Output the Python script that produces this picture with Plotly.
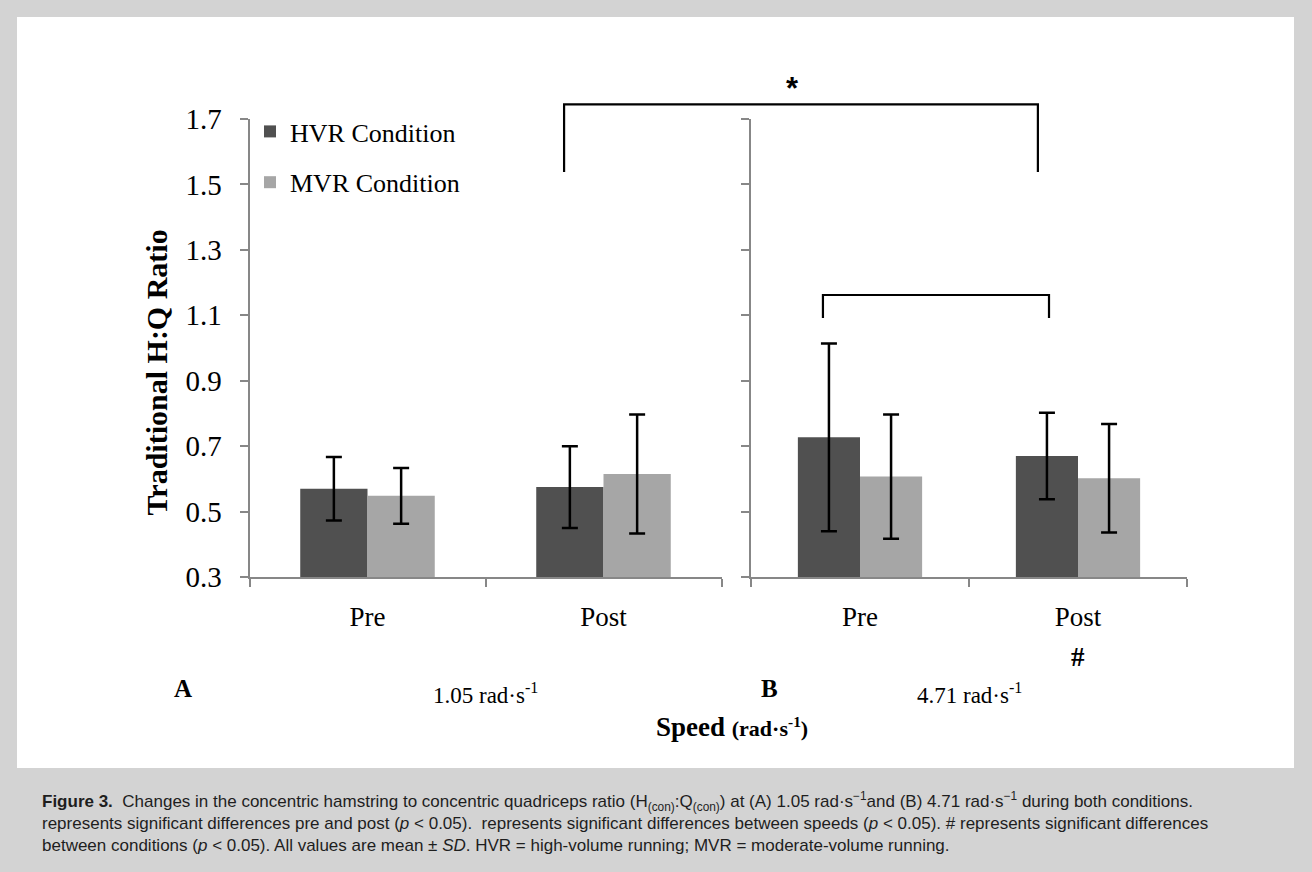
import plotly.graph_objects as go

# ---------------- data ----------------
categories = ["Pre", "Post"]
series_names = ["HVR Condition", "MVR Condition"]

# Panel A: 1.05 rad·s-1
hvr_a = [0.570, 0.575]
hvr_a_sd = [0.097, 0.125]
mvr_a = [0.548, 0.615]
mvr_a_sd = [0.085, 0.182]

# Panel B: 4.71 rad·s-1
hvr_b = [0.727, 0.670]
hvr_b_sd = [0.287, 0.132]
mvr_b = [0.607, 0.602]
mvr_b_sd = [0.190, 0.166]

y_ticks = [0.3, 0.5, 0.7, 0.9, 1.1, 1.3, 1.5, 1.7]
y_min, y_max = 0.3, 1.7

# ---------------- styling ----------------
W, H = 1312, 872
DARK = "#505050"
LIGHT = "#a6a6a6"
AXIS = "#878787"
BG = "#d3d3d3"
SERIF = "Liberation Serif, Times New Roman, serif"
SANS = "Liberation Sans, Arial, sans-serif"

def px_x(p):
    return p / W

def px_y(p):
    return 1 - p / H

XDOM = [[px_x(249.5), px_x(721.5)], [px_x(751), px_x(1187)]]
YDOM = [px_y(577), px_y(119)]

def xpaper(panel, pos):
    d = XDOM[panel]
    return d[0] + (pos + 0.5) / len(categories) * (d[1] - d[0])

def ypaper(v):
    return YDOM[0] + (v - y_min) / (y_max - y_min) * (YDOM[1] - YDOM[0])

fig = go.Figure()

def add_bars(x_ax, y_ax, vals, sds, color, name, show):
    fig.add_trace(go.Bar(
        x=categories, y=vals, name=name, marker_color=color,
        marker_line_width=0, xaxis=x_ax, yaxis=y_ax,
        showlegend=show, legendgroup=name,
        error_y=dict(type="data", array=sds, visible=True,
                     color="black", thickness=2.5, width=8),
    ))

add_bars("x", "y", hvr_a, hvr_a_sd, DARK, series_names[0], True)
add_bars("x", "y", mvr_a, mvr_a_sd, LIGHT, series_names[1], True)
add_bars("x2", "y2", hvr_b, hvr_b_sd, DARK, series_names[0], False)
add_bars("x2", "y2", mvr_b, mvr_b_sd, LIGHT, series_names[1], False)

xaxis_common = dict(
    type="category", range=[-0.5, 1.5], showline=True, linecolor=AXIS,
    linewidth=2, ticks="outside", tickson="boundaries", ticklen=8,
    tickcolor=AXIS, tickwidth=2, showgrid=False, zeroline=False,
    tickfont=dict(family=SERIF, size=27, color="black"),
    ticklabelstandoff=15, automargin=False,
)
yaxis_common = dict(
    range=[y_min, y_max], tickvals=y_ticks, showline=True, linecolor=AXIS,
    linewidth=2, ticks="outside", ticklen=8, tickcolor=AXIS, tickwidth=2,
    showgrid=False, zeroline=False, domain=YDOM, automargin=False,
)

shapes = [
    dict(type="rect", xref="paper", yref="paper",
         x0=px_x(17), x1=px_x(1294), y0=px_y(768), y1=px_y(17),
         fillcolor="white", line_width=0, layer="below"),
]

def bracket(p0, x0, p1, x1, top, bottom, color="black"):
    xa, xb = xpaper(p0, x0), xpaper(p1, x1)
    yt, yb = ypaper(top), ypaper(bottom)
    return dict(type="path", xref="paper", yref="paper",
                path=f"M {xa},{yb} L {xa},{yt} L {xb},{yt} L {xb},{yb}",
                line=dict(color=color, width=2.2))

# significance brackets (in data units)
big = (0, 1 - 0.167, 1, 1 - 0.184, 1.745, 1.538)
small = (1, -0.17, 1, 1 - 0.133, 1.162, 1.092)
shapes.append(bracket(*big))
shapes.append(bracket(*small))

caption = (
    "<b>Figure 3.</b>  Changes in the concentric hamstring to concentric quadriceps ratio "
    "(H<sub>(con)</sub>:Q<sub>(con)</sub>) at (A) 1.05 rad·s<sup>−1</sup>and (B) 4.71 "
    "rad·s<sup>−1</sup> during both conditions.<br>"
    "represents significant differences pre and post (<i>p</i> &lt; 0.05).  represents "
    "significant differences between speeds (<i>p</i> &lt; 0.05). # represents significant "
    "differences<br>"
    "between conditions (<i>p</i> &lt; 0.05). All values are mean ± <i>SD</i>. "
    "HVR = high-volume running; MVR = moderate-volume running."
)

annotations = [
    dict(text="<b>*</b>", xref="paper", yref="paper",
         x=px_x(793), y=ypaper(big[4]) + 16 / H, showarrow=False,
         font=dict(family=SANS, size=31, color="black"), xanchor="center",
         yanchor="middle"),
    dict(text="<b>Traditional H:Q Ratio</b>", xref="paper", yref="paper",
         x=px_x(156), y=(YDOM[0] + YDOM[1]) / 2 - 0.028, textangle=-90,
         showarrow=False, font=dict(family=SERIF, size=30, color="black"),
         xanchor="center", yanchor="middle"),
    dict(text="<b>#</b>", xref="x2", yref="paper", x="Post", y=px_y(657),
         showarrow=False, font=dict(family=SERIF, size=27, color="black"),
         xanchor="center", yanchor="middle"),
    dict(text="<b>A</b>", xref="paper", yref="paper", x=px_x(172), y=px_y(688),
         showarrow=False, font=dict(family=SERIF, size=25, color="black"),
         yanchor="middle"),
    dict(text="<b>B</b>", xref="paper", yref="paper", x=px_x(769), y=px_y(688),
         showarrow=False, font=dict(family=SERIF, size=25, color="black"),
         yanchor="middle"),
    dict(text="1.05 rad·s<sup>-1</sup>", xref="x", yref="paper", x=0.5,
         y=px_y(693), showarrow=False, yanchor="middle",
         font=dict(family=SERIF, size=23, color="black")),
    dict(text="4.71 rad·s<sup>-1</sup>", xref="x2", yref="paper", x=0.5,
         y=px_y(693), showarrow=False, yanchor="middle",
         font=dict(family=SERIF, size=23, color="black")),
    dict(text="<b>Speed</b> <b><span style='font-size:22px'>(rad·s<sup>-1</sup>)</span></b>",
         xref="paper", yref="paper", x=px_x(732), y=px_y(727),
         showarrow=False, yanchor="middle",
         font=dict(family=SERIF, size=27, color="black")),
    dict(text=caption, xref="paper", yref="paper", x=px_x(40), y=px_y(822),
         xanchor="left", yanchor="middle", align="left", showarrow=False,
         font=dict(family=SANS, size=17, color="#1e1e1e")),
]

fig.update_layout(
    width=W, height=H,
    margin=dict(l=0, r=0, t=0, b=0),
    paper_bgcolor=BG, plot_bgcolor="rgba(0,0,0,0)",
    barmode="group", bargap=0.43, bargroupgap=0,
    xaxis=dict(xaxis_common, domain=XDOM[0], anchor="y"),
    xaxis2=dict(xaxis_common, domain=XDOM[1], anchor="y2"),
    yaxis=dict(yaxis_common, anchor="x",
               tickfont=dict(family=SERIF, size=29, color="black"),
               ticklabelstandoff=12),
    yaxis2=dict(yaxis_common, anchor="x2", showticklabels=False),
    shapes=shapes,
    annotations=annotations,
    showlegend=True,
    legend=dict(x=px_x(250), y=px_y(108), xanchor="left", yanchor="top",
                bgcolor="rgba(0,0,0,0)", borderwidth=0,
                font=dict(family=SERIF, size=26, color="black"),
                tracegroupgap=14),
)

fig.write_html(
    "out.html",
    config={"displayModeBar": False},
    post_script="document.body.style.margin='0';document.body.style.overflow='hidden';",
)
